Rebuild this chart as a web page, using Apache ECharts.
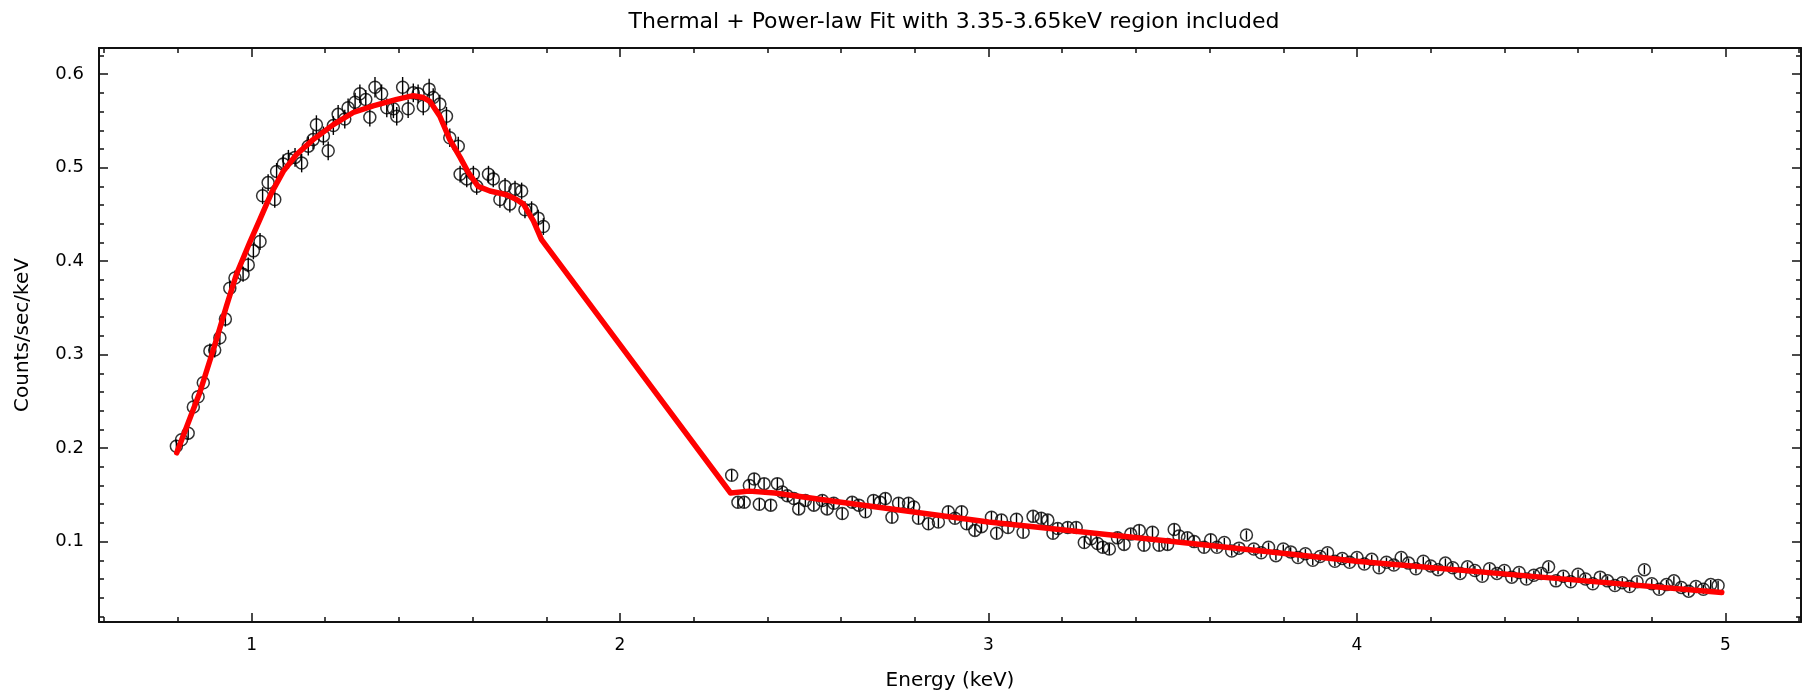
<!DOCTYPE html>
<html>
<head>
<meta charset="utf-8">
<script src="https://cdn.jsdelivr.net/npm/echarts@6/dist/echarts.min.js"></script>
<style>
html,body{margin:0;padding:0;background:#fff;}
#chart{width:1808px;height:698px;}
</style>
</head>
<body>
<div id="chart"></div>
<script>
// ---- Data (energy keV, counts/sec/keV, 1-sigma error) ----
const lowBand = [
[0.796,0.202,0.007],[0.810,0.209,0.007],[0.828,0.216,0.007],[0.842,0.244,0.007],[0.855,0.255,0.007],
[0.869,0.270,0.007],[0.887,0.304,0.008],[0.900,0.305,0.008],[0.914,0.318,0.008],[0.929,0.338,0.008],
[0.941,0.371,0.008],[0.955,0.382,0.008],[0.977,0.386,0.008],[0.991,0.396,0.008],[1.005,0.411,0.009],
[1.023,0.421,0.009],[1.030,0.470,0.009],[1.045,0.484,0.009],[1.063,0.466,0.009],[1.068,0.496,0.009],
[1.086,0.504,0.010],[1.100,0.509,0.010],[1.118,0.511,0.010],[1.136,0.505,0.010],[1.154,0.523,0.010],
[1.167,0.530,0.010],[1.176,0.546,0.010],[1.195,0.534,0.010],[1.208,0.518,0.010],[1.222,0.545,0.010],
[1.235,0.557,0.010],[1.253,0.552,0.010],[1.262,0.564,0.010],[1.281,0.570,0.010],[1.294,0.579,0.010],
[1.310,0.573,0.010],[1.321,0.554,0.010],[1.335,0.586,0.011],[1.353,0.579,0.010],[1.367,0.564,0.010],
[1.385,0.563,0.010],[1.394,0.555,0.010],[1.410,0.586,0.011],[1.425,0.563,0.010],[1.439,0.580,0.010],
[1.452,0.579,0.010],[1.466,0.566,0.010],[1.482,0.584,0.011],[1.493,0.575,0.010],[1.511,0.568,0.010],
[1.529,0.555,0.010],[1.538,0.532,0.010],[1.561,0.523,0.010],[1.566,0.493,0.009],[1.584,0.488,0.009],
[1.602,0.493,0.009],[1.611,0.480,0.009],[1.643,0.493,0.009],[1.656,0.488,0.009],[1.674,0.466,0.009],
[1.688,0.480,0.009],[1.701,0.461,0.009],[1.715,0.477,0.009],[1.733,0.475,0.009],[1.742,0.455,0.009],
[1.760,0.455,0.009],[1.778,0.446,0.009],[1.792,0.437,0.009]
];
const highBand = [
[2.303,0.171,0.006],[2.320,0.142,0.006],[2.337,0.142,0.006],[2.351,0.160,0.006],[2.364,0.167,0.006],
[2.378,0.140,0.006],[2.391,0.162,0.006],[2.409,0.139,0.006],[2.427,0.162,0.006],[2.440,0.153,0.006],
[2.454,0.149,0.006],[2.472,0.146,0.006],[2.485,0.135,0.006],[2.503,0.144,0.006],[2.526,0.139,0.006],
[2.549,0.144,0.006],[2.562,0.135,0.006],[2.580,0.141,0.006],[2.603,0.130,0.006],[2.630,0.142,0.006],
[2.648,0.139,0.006],[2.666,0.132,0.006],[2.688,0.144,0.006],[2.706,0.142,0.006],[2.720,0.146,0.006],
[2.738,0.126,0.006],[2.756,0.141,0.006],[2.783,0.141,0.006],[2.797,0.137,0.006],[2.810,0.125,0.006],
[2.837,0.119,0.006],[2.864,0.121,0.006],[2.891,0.132,0.006],[2.909,0.125,0.006],[2.927,0.132,0.006],
[2.941,0.119,0.006],[2.963,0.112,0.006],[2.981,0.116,0.006],[3.008,0.126,0.006],[3.022,0.109,0.006],
[3.035,0.123,0.006],[3.053,0.115,0.006],[3.076,0.124,0.006],[3.094,0.110,0.006],[3.121,0.127,0.006],
[3.143,0.125,0.006],[3.161,0.123,0.006],[3.175,0.109,0.006],[3.188,0.114,0.006],[3.215,0.115,0.006],
[3.238,0.115,0.006],[3.260,0.099,0.006],[3.278,0.103,0.006],[3.296,0.098,0.006],[3.310,0.094,0.006],
[3.328,0.092,0.006],[3.350,0.104,0.006],[3.368,0.097,0.006],[3.386,0.108,0.006],[3.409,0.112,0.006],
[3.422,0.096,0.006],[3.445,0.110,0.006],[3.463,0.096,0.006],[3.486,0.097,0.006],[3.504,0.113,0.006],
[3.517,0.106,0.006],[3.540,0.104,0.006],[3.558,0.100,0.006],[3.585,0.094,0.006],[3.603,0.102,0.006],
[3.62,0.094,0.005],[3.64,0.099,0.005],[3.66,0.090,0.005],[3.68,0.093,0.005],[3.70,0.107,0.005],
[3.72,0.092,0.005],[3.74,0.088,0.005],[3.76,0.094,0.005],[3.78,0.085,0.005],[3.80,0.092,0.005],
[3.82,0.089,0.005],[3.84,0.083,0.005],[3.86,0.087,0.005],[3.88,0.080,0.005],[3.90,0.084,0.005],
[3.92,0.088,0.005],[3.94,0.079,0.005],[3.96,0.082,0.005],[3.98,0.078,0.005],[4.00,0.083,0.005],
[4.02,0.076,0.005],[4.04,0.081,0.005],[4.06,0.072,0.005],[4.08,0.078,0.005],[4.10,0.075,0.005],
[4.12,0.083,0.005],[4.14,0.077,0.005],[4.16,0.071,0.005],[4.18,0.079,0.005],[4.20,0.074,0.005],
[4.22,0.070,0.005],[4.24,0.077,0.005],[4.26,0.072,0.005],[4.28,0.066,0.005],[4.30,0.073,0.005],
[4.32,0.069,0.005],[4.34,0.063,0.005],[4.36,0.071,0.005],[4.38,0.066,0.005],[4.40,0.069,0.005],
[4.42,0.062,0.005],[4.44,0.067,0.005],[4.46,0.060,0.005],[4.48,0.064,0.005],[4.50,0.066,0.005],
[4.52,0.073,0.005],[4.54,0.058,0.005],[4.56,0.063,0.005],[4.58,0.057,0.005],[4.60,0.065,0.005],
[4.62,0.060,0.005],[4.64,0.055,0.005],[4.66,0.062,0.005],[4.68,0.058,0.005],[4.70,0.053,0.005],
[4.72,0.056,0.005],[4.74,0.052,0.005],[4.76,0.057,0.005],[4.78,0.070,0.005],[4.80,0.055,0.005],
[4.82,0.049,0.005],[4.84,0.054,0.005],[4.86,0.058,0.005],[4.88,0.051,0.005],[4.90,0.047,0.005],
[4.92,0.052,0.005],[4.94,0.049,0.005],[4.96,0.054,0.005],[4.98,0.053,0.005]
];
// Fitted model (thermal + power-law) vertices
const modelE = [0.797,0.86,0.90,0.932,0.959,0.995,1.023,1.054,1.086,1.122,1.167,1.222,1.276,1.330,1.394,1.439,1.466,1.484,1.511,1.538,1.566,1.588,1.615,1.647,1.692,1.719,1.738,1.765,1.787,2.30,2.35,2.42,2.60,3.00,3.50,4.00,4.50,4.99];
const modelV = [0.195,0.260,0.310,0.352,0.386,0.420,0.445,0.473,0.496,0.514,0.530,0.546,0.559,0.566,0.573,0.577,0.575,0.571,0.555,0.530,0.511,0.495,0.480,0.475,0.471,0.466,0.461,0.443,0.423,0.152,0.154,0.152,0.142,0.121,0.100,0.079,0.062,0.0455];
// Tick values
const xMajor = [1,2,3,4,5];
const xMinor = [0.6,0.8,1.2,1.4,1.6,1.8,2.2,2.4,2.6,2.8,3.2,3.4,3.6,3.8,4.2,4.4,4.6,4.8,5.2];
const yMajor = [0.1,0.2,0.3,0.4,0.5,0.6];
const yMinor = [0.02,0.04,0.06,0.08,0.12,0.14,0.16,0.18,0.22,0.24,0.26,0.28,0.32,0.34,0.36,0.38,0.42,0.44,0.46,0.48,0.52,0.54,0.56,0.58,0.62];
const titleText = 'Thermal + Power-law Fit with 3.35-3.65keV region included';
const xName = 'Energy (keV)';
const yName = 'Counts/sec/keV';

const X_MIN = 0.586, X_MAX = 5.205, Y_MIN = 0.014, Y_MAX = 0.628;
const FONT = '"DejaVu Sans", "Liberation Sans", sans-serif';

function xAxisDef(pos, ticks, len, showLine, withLabels) {
  const a = {
    type: 'value', gridIndex: 0, position: pos, offset: 0,
    min: X_MIN, max: X_MAX,
    axisLine: {show: showLine, onZero: false, lineStyle: {color: '#111', width: 2}},
    axisTick: {show: true, inside: true, length: len, customValues: ticks, lineStyle: {color: '#111', width: 1.5}},
    axisLabel: {show: false},
    splitLine: {show: false}
  };
  if (withLabels) {
    a.axisLabel = {show: true, customValues: xMajor, margin: 15, fontFamily: FONT, fontSize: 17, color: '#000'};
    a.name = xName; a.nameLocation = 'middle'; a.nameGap = 49;
    a.nameTextStyle = {fontFamily: FONT, fontSize: 20, color: '#000'};
  }
  return a;
}
function yAxisDef(pos, ticks, len, showLine, withLabels) {
  const a = {
    type: 'value', gridIndex: 0, position: pos, offset: 0,
    min: Y_MIN, max: Y_MAX,
    axisLine: {show: showLine, onZero: false, lineStyle: {color: '#111', width: 2}},
    axisTick: {show: true, inside: true, length: len, customValues: ticks, lineStyle: {color: '#111', width: 1.5}},
    axisLabel: {show: false},
    splitLine: {show: false}
  };
  if (withLabels) {
    a.axisLabel = {show: true, customValues: yMajor, margin: 15, fontFamily: FONT, fontSize: 18, color: '#000',
      formatter: v => v.toFixed(1)};
    a.name = yName; a.nameLocation = 'middle'; a.nameGap = 66;
    a.nameTextStyle = {fontFamily: FONT, fontSize: 20, color: '#000'};
  }
  return a;
}

const chart = echarts.init(document.getElementById('chart'), null, {renderer: 'canvas'});
const allPts = lowBand.concat(highBand);
chart.setOption({
  animation: false,
  backgroundColor: '#fff',
  title: {
    text: titleText, left: 949, top: 6, textAlign: 'center',
    textStyle: {fontFamily: FONT, fontSize: 22, fontWeight: 'normal', color: '#000'}
  },
  grid: {left: 99, right: 7, top: 48, bottom: 76, containLabel: false, outerBoundsMode: 'none'},
  xAxis: [
    xAxisDef('bottom', xMajor, 9, true, true),
    xAxisDef('bottom', xMinor, 5, false, false),
    xAxisDef('top', xMajor, 9, true, false),
    xAxisDef('top', xMinor, 5, false, false)
  ],
  yAxis: [
    yAxisDef('left', yMajor, 9, true, true),
    yAxisDef('left', yMinor, 5, false, false),
    yAxisDef('right', yMajor, 9, true, false),
    yAxisDef('right', yMinor, 5, false, false)
  ],
  series: [
    {
      type: 'custom', xAxisIndex: 0, yAxisIndex: 0, z: 2,
      encode: {x: 0, y: 1},
      data: allPts,
      renderItem: function (params, api) {
        const x = api.value(0), y = api.value(1), e = api.value(2);
        const p1 = api.coord([x, y - e]);
        const p2 = api.coord([x, y + e]);
        return {type: 'line', shape: {x1: p1[0], y1: p1[1], x2: p2[0], y2: p2[1]},
          style: {stroke: '#000', lineWidth: 1.4}};
      }
    },
    {
      type: 'scatter', xAxisIndex: 0, yAxisIndex: 0, z: 3,
      encode: {x: 0, y: 1},
      data: allPts,
      symbol: 'circle', symbolSize: 12,
      itemStyle: {color: 'rgba(0,0,0,0)', borderColor: '#000', borderWidth: 1.5},
      emphasis: {disabled: true}
    },
    {
      type: 'line', xAxisIndex: 0, yAxisIndex: 0, z: 4,
      data: modelE.map((e, i) => [e, modelV[i]]),
      showSymbol: false, symbol: 'none',
      lineStyle: {color: '#ff0000', width: 5.5, cap: 'round', join: 'round'}
    }
  ]
});
</script>
</body>
</html>
